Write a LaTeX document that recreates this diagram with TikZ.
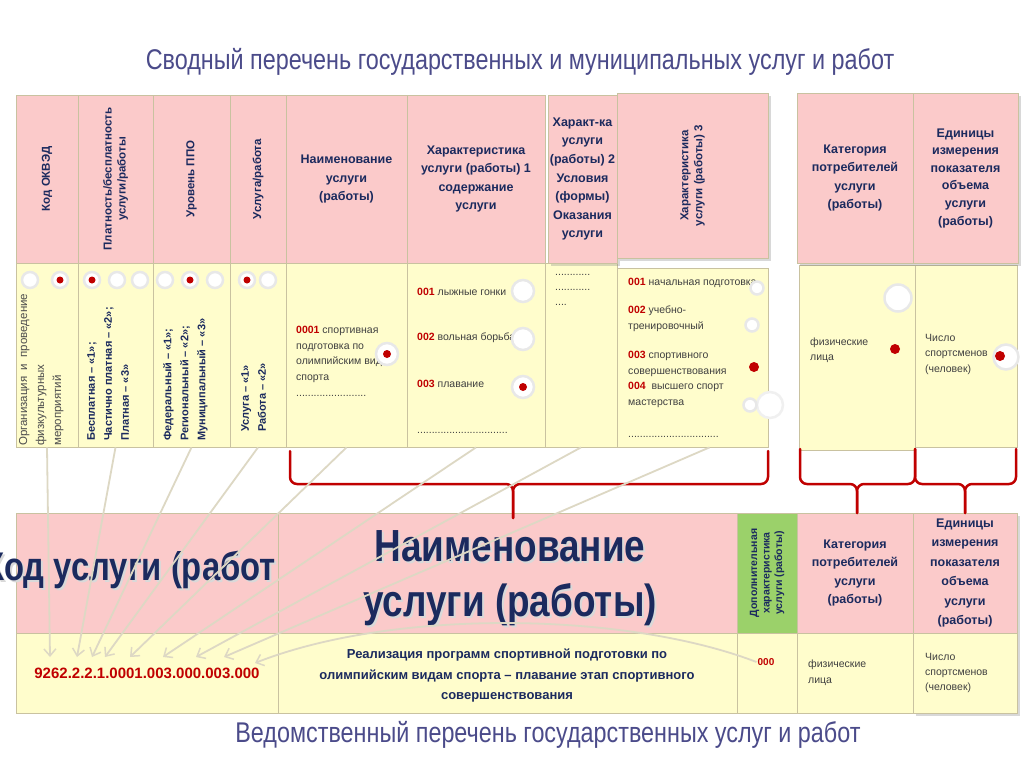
\documentclass[tikz,border=0pt]{standalone}
\usepackage{fontspec}
\setmainfont{Liberation Sans}
\newfontfamily\uzkii{Liberation Sans}[FakeStretch=0.82]
\usetikzlibrary{arrows.meta,shadows,calc}
\definecolor{rozovyi}{HTML}{FBCACA}
\definecolor{zheltyi}{HTML}{FFFDCC}
\definecolor{zelenyi}{HTML}{9BD16A}
\definecolor{ramka}{HTML}{C9C2A0}
\definecolor{sinii}{HTML}{1B2A5E}
\definecolor{krasnyi}{HTML}{C00000}
\definecolor{seryi}{HTML}{DDD8C4}
\definecolor{zagolovok}{HTML}{4B4B8A}
\newcommand{\kletka}[6]{\node[#1, minimum width={#5-#3}, minimum height={#6-#4}] (#2) at ({(#3+#5)/2},{(#4+#6)/2}) {};}
\newcommand{\nomer}[1]{{\bfseries\color{krasnyi}#1}}

\begin{document}
\begin{tikzpicture}[x=1pt, y=-1pt,
		cell/.style={draw=ramka, line width=0.8pt, inner sep=0pt},
		hdr/.style={cell, fill=rozovyi},
		dat/.style={cell, fill=zheltyi},
		ten/.style={drop shadow={shadow xshift=3pt, shadow yshift=-3pt, opacity=0.3}},
		zagl/.style={font=\uzkii\fontsize{28.5}{32}\selectfont, text=zagolovok},
		htxt/.style={font=\bfseries\fontsize{12.5}{18.6}\selectfont, text=sinii, align=center, inner sep=0pt},
		vtxt/.style={htxt, font=\bfseries\fontsize{11.5}{14}\selectfont, rotate=90},
		vdat/.style={rotate=90, anchor=north west, align=left, inner sep=0pt, font=\bfseries\fontsize{11}{17}\selectfont, text=sinii},
		mal/.style={font=\fontsize{10.5}{15.7}\selectfont, text=black!75, align=left, inner sep=0pt},
		bolshoi/.style={font=\uzkii\bfseries\fontsize{#1}{#1}\selectfont, text=sinii, align=center, inner sep=0pt},
		radio/.style={circle, fill=white, draw=black!9, line width=2.5pt, minimum size=#1, inner sep=0pt},
		radio/.default=16pt,
		dot/.style={circle, fill=krasnyi, minimum size=8pt, inner sep=0pt},
		brc/.style={draw=krasnyi, line width=2.5pt, line cap=round, line join=round, rounded corners=7pt},
		strelka/.style={draw=seryi, line width=1.8pt, -{Straight Barb[length=7pt,width=12pt,line width=1.5pt]}}]
	\useasboundingbox[fill=white] (0,0) rectangle (1024,768);

	\node[zagl] (svod) at (520,62) {Сводный перечень государственных и муниципальных услуг и работ};
	\node[zagl] (vedom) at (548,735) {Ведомственный перечень государственных услуг и работ};

	% svodnyi perechen
	\kletka{dat}{d1}{16}{263}{78}{447}
	\kletka{dat}{d2}{78}{263}{153}{447}
	\kletka{dat}{d3}{153}{263}{230}{447}
	\kletka{dat}{d4}{230}{263}{286}{447}
	\kletka{dat}{d5}{286}{263}{407}{447}
	\kletka{dat}{d6}{407}{263}{545}{447}
	\kletka{dat}{d7}{545}{263}{617}{447}
	\kletka{dat}{d8}{617}{268}{768}{447}
	\kletka{dat}{d9}{799}{265}{915}{450}
	\kletka{dat}{d10}{915}{265}{1017}{447}

	\kletka{hdr}{h1}{16}{95}{78}{263}
	\kletka{hdr}{h2}{78}{95}{153}{263}
	\kletka{hdr}{h3}{153}{95}{230}{263}
	\kletka{hdr}{h4}{230}{95}{286}{263}
	\kletka{hdr}{h5}{286}{95}{407}{263}
	\kletka{hdr}{h6}{407}{95}{545}{263}
	\kletka{hdr,ten}{h7}{548}{95}{617}{263}
	\kletka{hdr,ten}{h8}{617}{93}{768}{258}
	\kletka{hdr,ten}{h9}{797}{93}{913}{263}
	\kletka{hdr,ten}{h10}{913}{93}{1018}{263}

	\node[vtxt] (t1) at (h1) {Код ОКВЭД};
	\node[vtxt] (t2) at (h2) {Платность/бесплатность\\услуги/работы};
	\node[vtxt] (t3) at (h3) {Уровень ППО};
	\node[vtxt] (t4) at (h4) {Услуга/работа};
	\node[htxt] (t5) at (h5) {Наименование\\услуги\\(работы)};
	\node[htxt] (t6) at (h6) {Характеристика\\услуги (работы) 1\\содержание\\услуги};
	\node[htxt] (t7) at (h7) {Характ-ка\\услуги\\(работы) 2\\Условия\\(формы)\\Оказания\\услуги};
	\node[vtxt] (t8) at (h8) {Характеристика\\услуги (работы) 3};
	\node[htxt] (t9) at (h9) {Категория\\потребителей\\услуги\\(работы)};
	\node[htxt, font=\bfseries\fontsize{12.5}{17.6}\selectfont] (t10) at (h10) {Единицы\\измерения\\показателя\\объема\\услуги\\(работы)};

	\node[vdat, font=\fontsize{11.5}{17}\selectfont, text=black!70] (v1) at (19,446) {Организация \ и \ проведение\\физкультурных\\мероприятий};
	\node[vdat] (v2) at (87,441) {Бесплатная – «1»;\\Частично платная – «2»;\\Платная – «3»};
	\node[vdat] (v3) at (163,441) {Федеральный – «1»;\\Региональный – «2»;\\Муниципальный – «3»};
	\node[vdat] (v4) at (241,432) {Услуга – «1»\\Работа – «2»};

	\node[mal, anchor=north west] (v5) at (296,326) {\nomer{0001} спортивная\\подготовка по\\олимпийским видам\\спорта\\........................};
	\node[mal, anchor=west] (v6a) at (417,292) {\nomer{001} лыжные гонки};
	\node[mal, anchor=west] (v6b) at (417,338) {\nomer{002} вольная борьба};
	\node[mal, anchor=west] (v6c) at (417,384) {\nomer{003} плавание};
	\node[mal, anchor=west] (v6d) at (417,433) {...............................};
	\node[mal, anchor=north west, font=\fontsize{10.5}{15}\selectfont] (v7) at (555,274) {............\\............\\....};
	\node[mal, anchor=west] (v8a) at (628,283) {\nomer{001} начальная подготовка};
	\node[mal, anchor=north west] (v8b) at (628,306) {\nomer{002} учебно-\\тренировочный};
	\node[mal, anchor=north west] (v8c) at (628,351) {\nomer{003} спортивного\\совершенствования\\\nomer{004}\ \ высшего спорт\\мастерства};
	\node[mal, anchor=west] (v8d) at (628,437) {...............................};
	\node[mal, anchor=north west, font=\fontsize{10.5}{15}\selectfont] (v9) at (810,338) {физические\\лица};
	\node[mal, anchor=north west, font=\fontsize{10.5}{15.5}\selectfont] (v10) at (925,334) {Число\\спортсменов\\(человек)};

	\foreach \x/\n in {30/r1a, 117/r2b, 140/r2c, 165/r3a, 215/r3c, 268/r4b}
		\node[radio] (\n) at (\x,280) {};
	\foreach \x/\n in {60/r1b, 92/r2a, 190/r3b, 247/r4a}
		{\node[radio] (\n) at (\x,280) {};
		\node[dot, minimum size=7pt] (\n d) at (\n) {};}
	\node[radio=22pt] (r5) at (387,354) {};
	\node[dot] (r5d) at (r5) {};
	\node[radio=22pt] (r6a) at (523,291) {};
	\node[radio=22pt] (r6b) at (523,339) {};
	\node[radio=22pt] (r6c) at (523,387) {};
	\node[dot] (r6cd) at (r6c) {};
	\node[radio=13pt] (r8a) at (757,288) {};
	\node[radio=13pt] (r8b) at (752,325) {};
	\node[dot, minimum size=10pt] (r8c) at (754,367) {};
	\node[radio=26pt, draw=black!6] (r8e) at (770,405) {};
	\node[radio=13pt] (r8d) at (750,405) {};
	\node[radio=27pt] (r9a) at (898,298) {};
	\node[dot, minimum size=10pt] (r9b) at (895,349) {};
	\node[radio=25pt] (r10) at (1006,357) {};
	\node[dot, minimum size=10pt] (r10d) at (1000,356) {};

	% vedomstvennyi perechen
	\kletka{hdr}{b1}{16}{513}{278}{633}
	\kletka{hdr}{b2}{278}{513}{737}{633}
	\kletka{cell,fill=zelenyi}{b3}{737}{513}{797}{633}
	\kletka{hdr}{b4}{797}{513}{913}{633}
	\kletka{hdr,ten}{b5}{913}{513}{1017}{633}
	\kletka{dat}{e1}{16}{633}{278}{713}
	\kletka{dat}{e2}{278}{633}{737}{713}
	\kletka{dat}{e3}{737}{633}{797}{713}
	\kletka{dat}{e4}{797}{633}{913}{713}
	\kletka{dat,ten}{e5}{913}{633}{1017}{713}

	\node[bolshoi=40, text=black!15, anchor=east] (b1ten) at (278,572) {Код услуги (работ};
	\node[bolshoi=40, anchor=east] (b1txt) at (276,570) {Код услуги (работ};
	\node[bolshoi=45, text=black!15, font=\uzkii\bfseries\fontsize{45}{55}\selectfont] (b2ten) at (512,580) {Наименование\\услуги (работы)};
	\node[bolshoi=45, font=\uzkii\bfseries\fontsize{45}{55}\selectfont] (b2txt) at (510,578) {Наименование\\услуги (работы)};
	\node[vtxt, font=\bfseries\fontsize{10.5}{12.5}\selectfont] (b3txt) at (b3) {Дополнительная\\характеристика\\услуги (работы)};
	\node[htxt] (b4txt) at (b4) {Категория\\потребителей\\услуги\\(работы)};
	\node[htxt, font=\bfseries\fontsize{12.5}{19.4}\selectfont] (b5txt) at (b5) {Единицы\\измерения\\показателя\\объема\\услуги\\(работы)};

	\node[font=\bfseries\fontsize{15}{18}\selectfont, text=krasnyi, inner sep=0pt] (kod) at (147,673) {9262.2.2.1.0001.003.000.003.000};
	\node[htxt, font=\bfseries\fontsize{13}{20.5}\selectfont] (realiz) at (507,676) {Реализация программ спортивной подготовки по\\олимпийским видам спорта – плавание этап спортивного\\совершенствования};
	\node[font=\bfseries\fontsize{10}{12}\selectfont, text=krasnyi, inner sep=1pt] (n000) at (766,662) {000};
	\node[mal, anchor=north west, font=\fontsize{10.5}{16}\selectfont] (e4txt) at (808,660) {физические\\лица};
	\node[mal, anchor=north west, font=\fontsize{10.5}{15}\selectfont] (e5txt) at (925,653) {Число\\спортсменов\\(человек)};

	% skobki
	\draw[brc] (290,451) -- (290,484) -- (513,484) -- (513,518);
	\draw[brc] (768,451) -- (768,484) -- (513,484) -- (513,518);
	\draw[brc] (800,449) -- (800,484) -- (857,484) -- (857,513);
	\draw[brc] (915,449) -- (915,484) -- (857,484) -- (857,513);
	\draw[brc] (915,449) -- (915,484) -- (965,484) -- (965,513);
	\draw[brc] (1016,449) -- (1016,484) -- (965,484) -- (965,513);

	% strelki
	\coordinate (s8) at ($(d8.south)+(17,0)$);
	\foreach \x [count=\i] in {50,77,92,105,130,163,196,224,255}
		\coordinate (k\i) at (\x,657);
	\foreach \s/\k in {d1/k1, d2/k2, d3/k3, d4/k4, d5/k5, d6/k6, d7/k7}
		\draw[strelka] (\s.south) -- (\k);
	\draw[strelka] (s8) -- (k8);
	\draw[strelka] (n000.west) .. controls +(-130,-50) and +(140,-55) .. ($(k9)+(0,6)$);
\end{tikzpicture}
\end{document}
